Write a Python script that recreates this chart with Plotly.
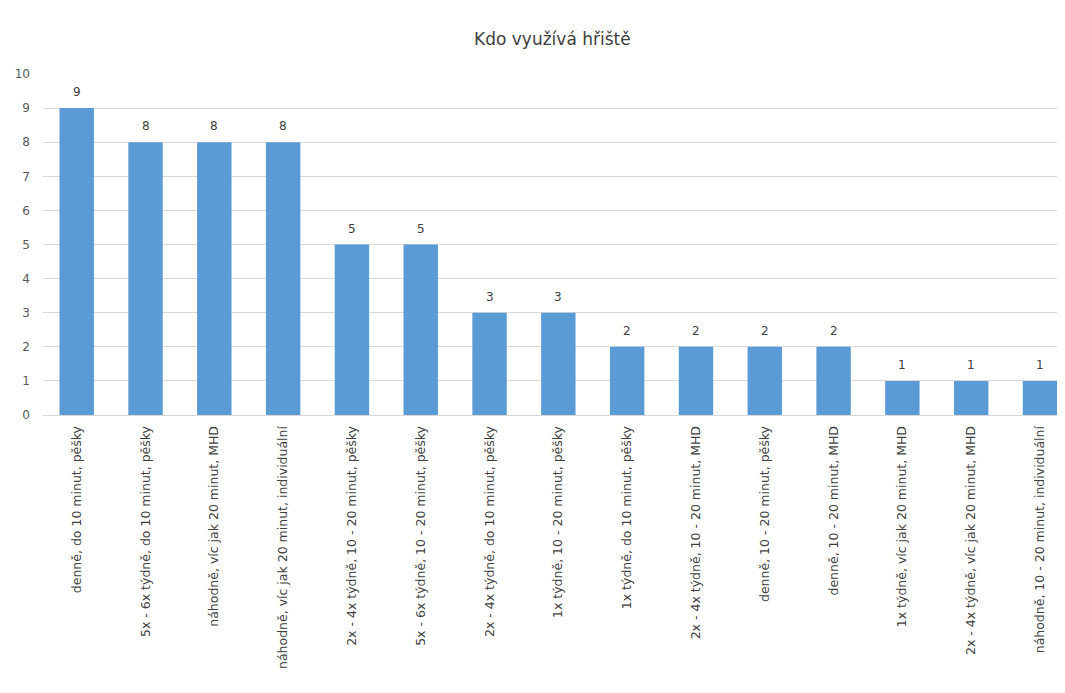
import plotly.graph_objects as go

categories = [
    "denně, do 10 minut, pěšky",
    "5x - 6x týdně, do 10 minut, pěšky",
    "náhodně, víc jak 20 minut, MHD",
    "náhodně, víc jak 20 minut, individuální",
    "2x - 4x týdně, 10 - 20 minut, pěšky",
    "5x - 6x týdně, 10 - 20 minut, pěšky",
    "2x - 4x týdně, do 10 minut, pěšky",
    "1x týdně, 10 - 20 minut, pěšky",
    "1x týdně, do 10 minut, pěšky",
    "2x - 4x týdně, 10 - 20 minut, MHD",
    "denně, 10 - 20 minut, pěšky",
    "denně, 10 - 20 minut, MHD",
    "1x týdně, víc jak 20 minut, MHD",
    "2x - 4x týdně, víc jak 20 minut, MHD",
    "náhodně, 10 - 20 minut, individuální",
]
values = [9, 8, 8, 8, 5, 5, 3, 3, 2, 2, 2, 2, 1, 1, 1]
y_ticks = list(range(0, 11))

FONT = "DejaVu Sans"

fig = go.Figure(
    go.Bar(
        x=categories,
        y=values,
        marker=dict(color="#5B9BD5", line=dict(width=0)),
        width=0.5,
    )
)

for c, v in zip(categories, values):
    fig.add_annotation(
        x=c, y=v, text=str(v), showarrow=False,
        yanchor="bottom", yshift=7,
        font=dict(size=12, color="#404040", family=FONT),
    )

fig.update_layout(
    width=1057,
    height=685,
    paper_bgcolor="white",
    plot_bgcolor="white",
    margin=dict(l=35, r=3, t=66, b=278),
    title=dict(
        text="Kdo využívá hřiště",
        x=0.515,
        xanchor="center",
        y=0.955,
        yanchor="middle",
        font=dict(size=17, color="#404040", family=FONT),
    ),
    showlegend=False,
    font=dict(family=FONT, color="#595959"),
)

fig.update_xaxes(
    range=[-0.49, 14.32],
    tickangle=-90,
    tickfont=dict(size=12.5, color="#404040", family=FONT),
    showgrid=False,
    showline=True,
    linecolor="#d9d9d9",
    ticks="",
    ticklabelstandoff=5,
)
fig.update_yaxes(
    range=[0, 10],
    tickvals=y_ticks,
    tickfont=dict(size=12, color="#595959", family=FONT),
    showgrid=True,
    gridcolor="#d9d9d9",
    gridwidth=1,
    zeroline=False,
    ticks="",
    ticklabelstandoff=12,
)

fig.write_html("out.html")
